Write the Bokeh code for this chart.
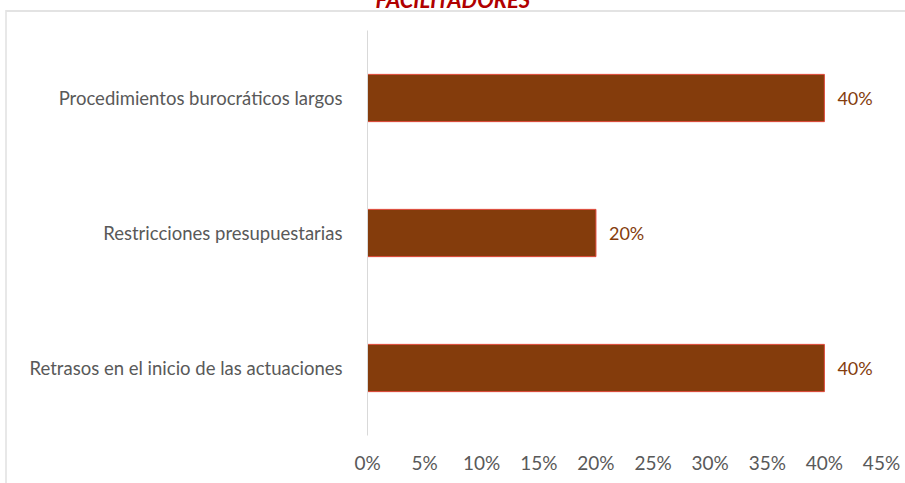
from bokeh.plotting import figure
from bokeh.models import Range1d, FixedTicker, ColumnDataSource
from bokeh.core.properties import value
from bokeh.embed import file_html
from bokeh.resources import INLINE

title = "FACILITADORES"
categories = ["Procedimientos burocráticos largos",
              "Restricciones presupuestarias",
              "Retrasos en el inicio de las actuaciones"]
values = [0.40, 0.20, 0.40]
value_labels = ["40%", "20%", "40%"]
tick_values = [0.0, 0.05, 0.10, 0.15, 0.20, 0.25, 0.30, 0.35, 0.40, 0.45]
tick_labels = ["0%", "5%", "10%", "15%", "20%", "25%", "30%", "35%", "40%", "45%"]

FONT = "Lato"
GRAY = "#595959"
BAR = "#843C0C"
SHIFT = 35

src = ColumnDataSource(dict(cat=categories, val=values, lab=value_labels))

p = figure(width=905, height=483 + SHIFT, output_backend="svg", toolbar_location=None,
           y_range=list(reversed(categories)), x_range=Range1d(0, 0.45),
           min_border_left=367, min_border_right=24, min_border_top=30 + SHIFT,
           min_border_bottom=48)
p.outline_line_color = None
p.border_fill_color = None
p.background_fill_color = None
p.styles = {
    "margin-top": f"-{SHIFT}px",
    "background": (f"linear-gradient(#e3e3e3,#e3e3e3) 6px {10 + SHIFT}px / 100% 2px no-repeat, "
                   f"linear-gradient(#e8e8e8,#e8e8e8) 5px {10 + SHIFT}px / 2px 100% no-repeat, #ffffff"),
}
p.xgrid.grid_line_color = None
p.ygrid.grid_line_color = None

p.title.text = title
p.title.align = "left"
p.title.offset = 8
p.title.standoff = 36
p.title.text_color = "#B00000"
p.title.text_font = FONT
p.title.text_font_style = "bold italic"
p.title.text_font_size = "22px"

p.hbar(y="cat", right="val", left=0, height=0.35, source=src,
       fill_color=BAR, line_color="#e0483a", line_width=1)
p.text(x="val", y="cat", text="lab", source=src, x_offset=13,
       text_baseline="middle", text_align="left", text_color=BAR,
       text_font=value(FONT), text_font_size="18px")

xa = p.xaxis[0]
xa.ticker = FixedTicker(ticks=tick_values)
xa.major_label_overrides = {v: l for v, l in zip(tick_values, tick_labels)}
xa.axis_line_color = None
xa.major_tick_line_color = None
xa.minor_tick_line_color = None
xa.major_label_standoff = 9
xa.major_label_text_font = FONT
xa.major_label_text_font_size = "19px"
xa.major_label_text_color = GRAY

ya = p.yaxis[0]
ya.axis_line_color = "#d9d9d9"
ya.axis_line_width = 1
ya.major_tick_line_color = None
ya.minor_tick_line_color = None
ya.major_label_standoff = 19
ya.major_label_text_font = FONT
ya.major_label_text_font_size = "18.5px"
ya.major_label_text_color = GRAY

open("out.html", "w").write(file_html(p, INLINE))
